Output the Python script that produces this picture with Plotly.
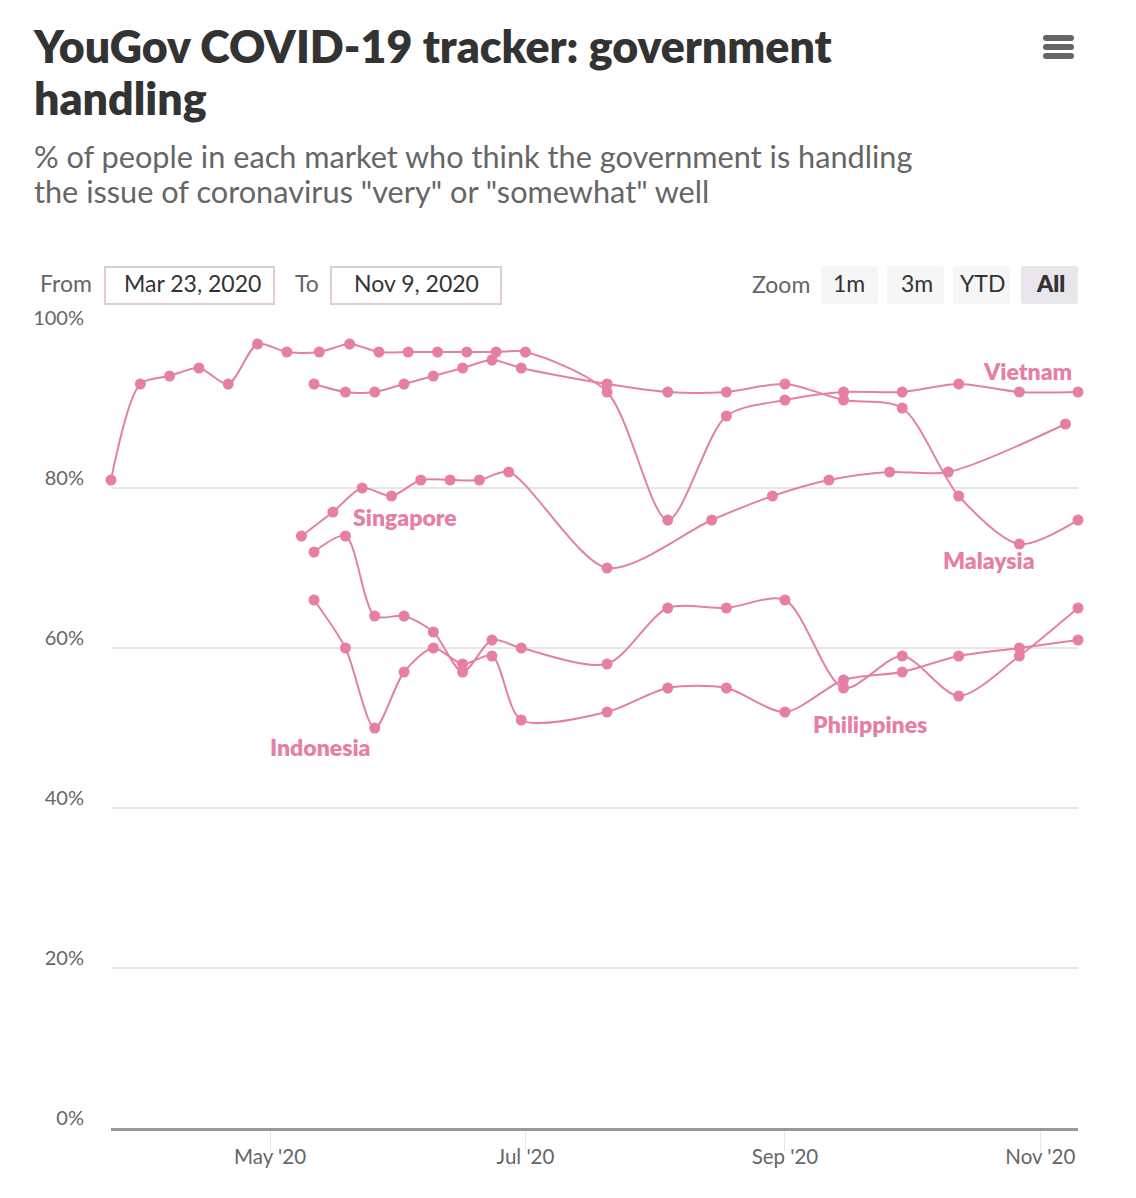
import plotly.graph_objects as go

# ---------- data ----------
vietnam_dates = ["2020-03-24","2020-03-31","2020-04-07","2020-04-14","2020-04-21","2020-04-28","2020-05-05",
                 "2020-05-12 18:00","2020-05-20","2020-05-27","2020-06-03","2020-06-10","2020-06-17","2020-06-24","2020-07-01",
                 "2020-07-20 12:00","2020-08-04","2020-08-18","2020-09-01","2020-09-15","2020-09-29","2020-10-12 12:00","2020-10-27","2020-11-10"]
vietnam_vals = [81,93,94,95,93,98,97,97,98,97,97,97,97,97,97,92,76,89,91,92,92,93,92,92]

common_dates = ["2020-05-11 12:00","2020-05-19","2020-05-26","2020-06-02","2020-06-09","2020-06-16","2020-06-23","2020-06-30",
                "2020-07-20 12:00","2020-08-04","2020-08-18","2020-09-01","2020-09-15","2020-09-29","2020-10-12 12:00","2020-10-27","2020-11-10"]
malaysia_vals = [93,92,92,93,94,95,96,95,93,92,92,93,91,90,79,73,76]
philippines_vals = [72,74,64,64,62,57,61,60,58,65,65,66,55,59,54,59,65]
indonesia_vals = [66,60,50,57,60,58,59,51,52,55,55,52,56,57,59,60,61]

singapore_dates = ["2020-05-08 12:00","2020-05-16","2020-05-23","2020-05-30","2020-06-06","2020-06-13","2020-06-20","2020-06-27",
                   "2020-07-20 12:00","2020-08-14 12:00","2020-08-29","2020-09-11 12:00","2020-09-26","2020-10-10","2020-11-07"]
singapore_vals = [74,77,80,79,81,81,81,82,70,76,79,81,82,82,88]

series = [("Vietnam", vietnam_dates, vietnam_vals),
          ("Malaysia", common_dates, malaysia_vals),
          ("Singapore", singapore_dates, singapore_vals),
          ("Philippines", common_dates, philippines_vals),
          ("Indonesia", common_dates, indonesia_vals)]

TITLE = ["YouGov COVID-19 tracker: government", "handling"]
SUBTITLE = ['% of people in each market who think the government is handling',
            'the issue of coronavirus "very" or "somewhat" well']

# ---------- style ----------
W, H = 1136, 1198
L, R, T, B = 111, 1078, 328, 1128
PINK = "#e67fa5"
FONT = "Lato"
def px(v): return (v - L) / (R - L)
def py(v): return (B - v) / (B - T)

def rrect(x0, y0, x1, y1, r, fill, line=None, lw=0):
    a, b, c, d = px(x0), px(x1), py(y0), py(y1)
    rx, ry = r / (R - L), r / (B - T)
    path = (f"M{a+rx},{c} L{b-rx},{c} Q{b},{c} {b},{c-ry} L{b},{d+ry} Q{b},{d} {b-rx},{d} "
            f"L{a+rx},{d} Q{a},{d} {a},{d+ry} L{a},{c-ry} Q{a},{c} {a+rx},{c} Z")
    return dict(type="path", path=path, xref="paper", yref="paper", fillcolor=fill,
                line=dict(color=line or fill, width=lw), layer="below")

def text(s, x, y, size, color, anchor="center", weight=400):
    return dict(text=s, x=px(x - 2 if anchor == "left" else x), y=py(y - 1), xref="paper", yref="paper",
                xanchor=anchor, yanchor="middle", showarrow=False, align="left",
                font=dict(family=FONT, size=size, color=color, weight=weight))

fig = go.Figure()
for name, xs, ys in series:
    fig.add_trace(go.Scatter(x=xs, y=ys, name=name, mode="lines+markers",
                             line=dict(color=PINK, width=2, shape="spline", smoothing=0.8),
                             marker=dict(color=PINK, size=11), cliponaxis=False,
                             showlegend=False))

shapes = [
    rrect(105, 267, 274, 304, 0, "#ffffff", "#e2cdd7", 2),
    rrect(331, 267, 501, 304, 0, "#ffffff", "#e2cdd7", 2),
    rrect(821, 266, 878, 304, 3, "#f6f6f6"),
    rrect(887, 266, 944, 304, 3, "#f6f6f6"),
    rrect(953, 266, 1010, 304, 3, "#f6f6f6"),
    rrect(1021, 266, 1078, 304, 3, "#e8e6ea"),
    rrect(1043, 35, 1074, 41, 3, "#666666"),
    rrect(1043, 44, 1074, 50, 3, "#666666"),
    rrect(1043, 53, 1074, 59, 3, "#666666"),
]

annotations = [
    text(TITLE[1], 34, 99, 44.7, "#333333", "left", 800),
    text(SUBTITLE[0], 34, 158, 30.7, "#666666", "left"),
    text(SUBTITLE[1], 34, 192, 30.7, "#666666", "left"),
    text("From", 66, 284, 23, "#666666"),
    text("Mar 23, 2020", 192, 284, 23, "#333333"),
    text("To", 307, 284, 23, "#666666"),
    text("Nov 9, 2020", 416, 284, 23, "#333333"),
    text("Zoom", 781, 285, 23, "#666666"),
    text("1m", 849, 284, 23, "#333333"),
    text("3m", 917, 284, 23, "#333333"),
    text("YTD", 982, 284, 23, "#333333"),
    text("All", 1050, 284, 23, "#333333", weight=800),
    text("Vietnam", 1027, 372, 23, PINK, weight=800),
    text("Singapore", 405, 518, 23, PINK, weight=800),
    text("Malaysia", 989, 561, 23, PINK, weight=800),
    text("Indonesia", 320, 748, 23, PINK, weight=800),
    text("Philippines", 870, 725, 23, PINK, weight=800),
]

fig.update_layout(
    width=W, height=H, autosize=False,
    margin=dict(l=L, r=W - R, t=T, b=H - B, pad=0),
    paper_bgcolor="white", plot_bgcolor="white",
    font=dict(family=FONT, color="#666666", size=20),
    title=dict(text=TITLE[0], x=34 / W, xanchor="left", xref="container",
               y=1 - 47 / H, yanchor="middle", yref="container",
               font=dict(family=FONT, size=44.7, color="#333333", weight=800)),
    shapes=shapes, annotations=annotations,
    xaxis=dict(type="date", range=["2020-03-24", "2020-11-10"], tick0="2020-01-01", dtick="M2",
               tickformat="%b '%y", showgrid=False, ticks="outside", ticklen=20, tickwidth=1,
               tickcolor="#e6e6e6", showline=True, linecolor="#999999", linewidth=3,
               zeroline=False, tickfont=dict(size=20.5, color="#666666"), ticklabelstandoff=-12),
    yaxis=dict(range=[0, 100], tick0=0, dtick=20, ticksuffix="%", showgrid=True, gridcolor="#e8e6e8",
               gridwidth=2, zeroline=False, showline=False, ticks="", ticklabelstandoff=26,
               ticklabelshift=-10, tickfont=dict(size=20, color="#666666")),
)

fig.write_html("out.html", config=dict(displayModeBar=False),
               post_script="document.body.style.margin='0';")
